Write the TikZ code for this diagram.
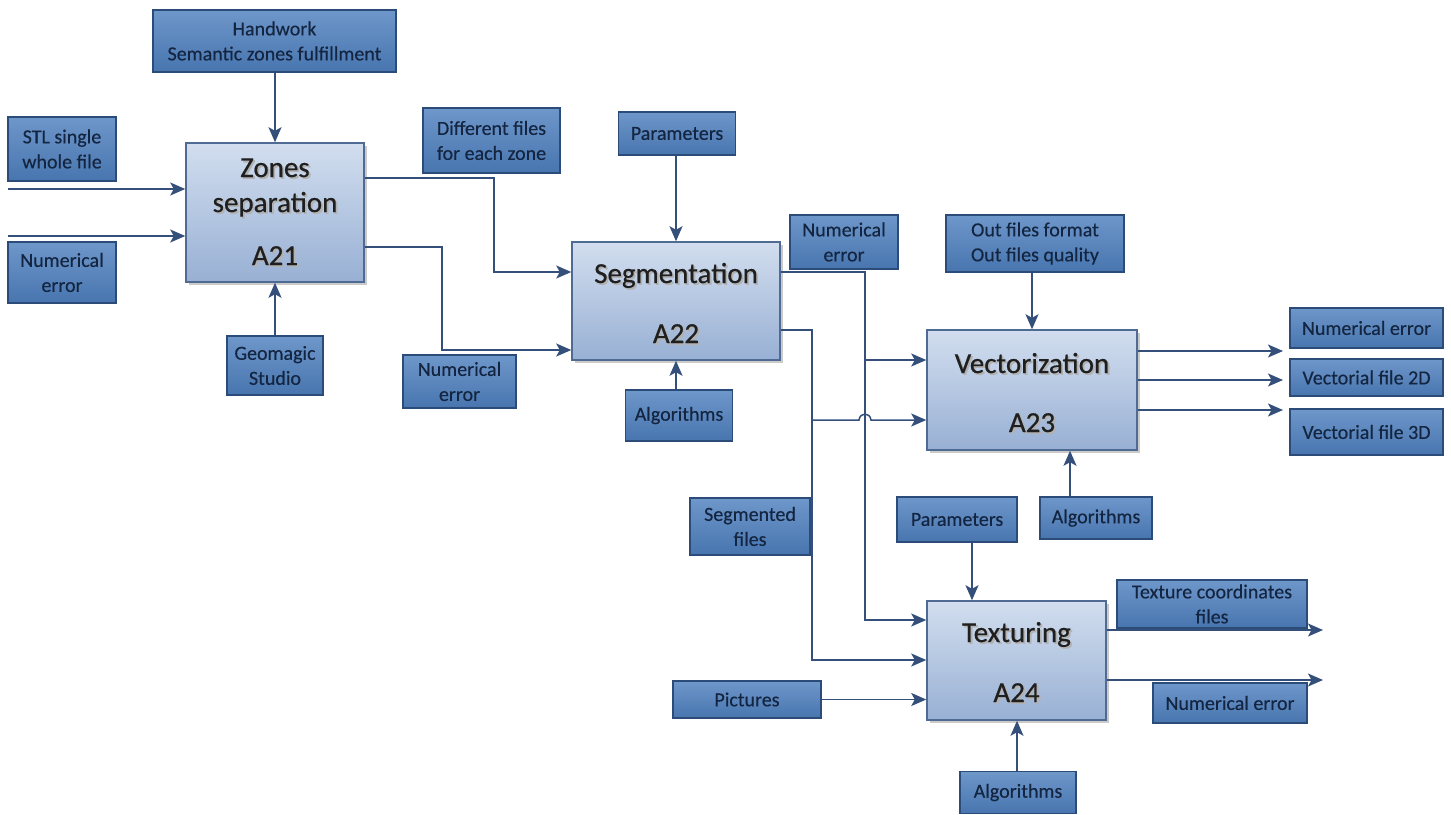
\documentclass[tikz,border=0pt]{standalone}
\usepackage{fontspec}
\setmainfont{Carlito}
\usetikzlibrary{arrows.meta,shadows}
\definecolor{labtop}{HTML}{6E97CA}
\definecolor{labbot}{HTML}{4875AF}
\definecolor{labdraw}{HTML}{2B4C78}
\definecolor{labtext}{HTML}{132540}
\definecolor{maintop}{HTML}{D2DEEF}
\definecolor{mainbot}{HTML}{98B0D4}
\definecolor{maindraw}{HTML}{4F6B93}
\definecolor{linec}{HTML}{34507A}
\newcommand\shadowed[1]{\makebox[0pt][l]{\hspace{1.8pt}\raisebox{-1.8pt}{\color{black!30}#1}}#1}
\tikzset{
  lab/.style={draw=labdraw, line width=1.3pt, top color=labtop, bottom color=labbot,
    text=labtext, font=\fontsize{20}{25}\selectfont\addfontfeature{FakeBold=0.3}, align=center, inner sep=0pt},
  mainbox/.style={draw=maindraw, line width=1.5pt, top color=maintop, bottom color=mainbot,
    drop shadow={shadow xshift=3pt, shadow yshift=-3pt, opacity=0.35, fill=black!60}},
  bigt/.style={font=\fontsize{29}{34}\selectfont\addfontfeature{FakeBold=0.5}, text=black!88, anchor=base, inner sep=0pt},
  conn/.style={draw=linec, line width=1.5pt},
  arr/.style={conn, -{Stealth[length=15pt, width=13pt, inset=3.5pt]}},
}
\begin{document}
\begin{tikzpicture}[x=1pt, y=-1pt]
\useasboundingbox (0,0) rectangle (1451,814);

% ---------- main boxes ----------
\node[mainbox, minimum width=178pt, minimum height=139pt] (a21) at (275,212.5) {};
\node[mainbox, minimum width=208pt, minimum height=118pt] (a22) at (676,301) {};
\node[mainbox, minimum width=210pt, minimum height=120pt] (a23) at (1032,390) {};
\node[mainbox, minimum width=179pt, minimum height=119pt] (a24) at (1016.5,660.5) {};

\node[bigt] (a21t1) at (275,177) {\shadowed{Zones}};
\node[bigt] (a21t2) at (275,212) {\shadowed{separation}};
\node[bigt] (a21t3) at (275,265) {\shadowed{A21}};
\node[bigt] (a22t1) at (676,283) {\shadowed{Segmentation}};
\node[bigt] (a22t2) at (676,343) {\shadowed{A22}};
\node[bigt] (a23t1) at (1032,373) {\shadowed{Vectorization}};
\node[bigt] (a23t2) at (1032,432) {\shadowed{A23}};
\node[bigt] (a24t1) at (1016.5,642) {\shadowed{Texturing}};
\node[bigt] (a24t2) at (1016.5,702) {\shadowed{A24}};

% ---------- label boxes ----------
\node[lab, minimum width=243pt, minimum height=62pt] (hand) at (274.5,41) {Handwork\\Semantic zones fulfillment};
\node[lab, minimum width=108pt, minimum height=64pt] (stl) at (62,149) {STL single\\whole file};
\node[lab, minimum width=108pt, minimum height=61pt] (ne1) at (62,272.5) {Numerical\\error};
\node[lab, minimum width=96pt, minimum height=59pt] (geo) at (275,365.5) {Geomagic\\Studio};
\node[lab, minimum width=137pt, minimum height=65pt] (diff) at (491.5,140.5) {Different files\\for each zone};
\node[lab, minimum width=113pt, minimum height=53pt] (ne2) at (459.5,381.5) {Numerical\\error};
\node[lab, minimum width=117pt, minimum height=43pt] (par1) at (677,133.5) {Parameters};
\node[lab, minimum width=107pt, minimum height=51pt] (alg1) at (679,415.5) {Algorithms};
\node[lab, minimum width=108pt, minimum height=54pt] (ne3) at (844,242) {Numerical\\error};
\node[lab, minimum width=178pt, minimum height=57pt] (outf) at (1035,243.5) {Out files format\\Out files quality};
\node[lab, minimum width=153pt, minimum height=40pt] (ne4) at (1366.5,328) {Numerical error};
\node[lab, minimum width=153pt, minimum height=37pt] (v2d) at (1366.5,377.5) {Vectorial file 2D};
\node[lab, minimum width=153pt, minimum height=46pt] (v3d) at (1366.5,432) {Vectorial file 3D};
\node[lab, minimum width=112pt, minimum height=42pt] (alg2) at (1096,518) {Algorithms};
\node[lab, minimum width=120pt, minimum height=57pt] (segf) at (750,526.5) {Segmented\\files};
\node[lab, minimum width=120pt, minimum height=45pt] (par2) at (957,519.5) {Parameters};
\node[lab, minimum width=148pt, minimum height=37pt] (pic) at (747,699.5) {Pictures};
\node[lab, minimum width=116pt, minimum height=42pt] (alg3) at (1018,792.5) {Algorithms};
\node[lab, minimum width=190pt, minimum height=48pt] (texc) at (1212,604) {Texture coordinates\\files};
\node[lab, minimum width=154pt, minimum height=40pt] (ne5) at (1230,703) {Numerical error};

% ---------- free ends ----------
\coordinate (in1) at (8,189);
\coordinate (in2) at (8,236);
\coordinate (vo1) at (1283,351);
\coordinate (vo2) at (1283,380);
\coordinate (vo3) at (1283,410);
\coordinate (to1) at (1323,630);
\coordinate (to2) at (1323,680);

% ---------- A21 ----------
\draw[arr] (hand.south -| a21.north) -- (a21.north);
\draw[arr] (in1) -- (a21.west |- in1);
\draw[arr] (in2) -- (a21.west |- in2);
\draw[arr] (geo.north) -- (geo.north |- a21.south);

% A21 -> A22
\draw[arr] (a21.east |- 0,178) -- (494,178) -- (494,272) -- (a22.west |- 0,272);
\draw[arr] (a21.east |- 0,247) -- (442,247) -- (442,350) -- (a22.west |- 0,350);
\draw[arr] (676,0 |- par1.south) -- (a22.north);
\draw[arr] (676,0 |- alg1.north) -- (a22.south);

% A22 -> A23 / A24
\draw[arr] (a22.east |- 0,272) -- (865,272) -- (865,620) -- (a24.west |- 0,620);
\draw[arr] (865,360) -- (a23.west |- 0,360);
\draw[arr] (a22.east |- 0,330) -- (812,330) -- (812,660) -- (a24.west |- 0,660);
\draw[arr] (812,420) -- (859,420) .. controls (860,412) and (870,412) .. (871,420) -- (a23.west |- 0,420);

% A23
\draw[arr] (1032,0 |- outf.south) -- (a23.north);
\draw[arr] (1070,0 |- alg2.north) -- (1070,0 |- a23.south);
\draw[arr] (a23.east |- vo1) -- (vo1);
\draw[arr] (a23.east |- vo2) -- (vo2);
\draw[arr] (a23.east |- vo3) -- (vo3);

% A24
\draw[arr] (972,0 |- par2.south) -- (972,0 |- a24.north);
\draw[arr] (1017,0 |- alg3.north) -- (1017,0 |- a24.south);
\draw[arr] (pic.east) -- (a24.west |- pic.east);
\draw[arr] (a24.east |- to1) -- (to1);
\draw[arr] (a24.east |- to2) -- (to2);
\end{tikzpicture}
\end{document}
